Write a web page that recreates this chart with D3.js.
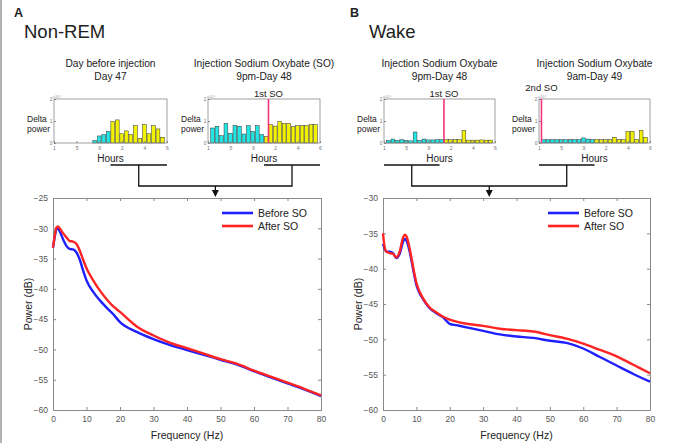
<!DOCTYPE html>
<html>
<head>
<meta charset="utf-8">
<script src="https://cdnjs.cloudflare.com/ajax/libs/d3/7.8.5/d3.min.js"></script>
<style>
  body { margin: 0; background: #fff; }
  svg text { font-family: "Liberation Sans", Arial, sans-serif; fill: #222; }
</style>
</head>
<body>
<svg id="fig" width="675" height="443"></svg>
<script>
// --- data

// hourly delta power (x10^4), 24 bins per recording
var hourTicks = ['1', '5', '9', '2', '4', '6'];
var nremDay47 = [0, 0, 0, 0, 0, 0, 0, 0, 0.11, 0.32, 0.38, 0.53, 0.97, 1.05, 0.42, 0.55, 0.38, 0.79, 0.2, 0.83, 0.42, 0.79, 0.64, 0.26];
var nremDay48 = [0.68, 0.76, 0.33, 0.89, 0.44, 0.8, 0.76, 0.41, 0.79, 0.53, 0.79, 0.38, 0.29, 0.83, 0.77, 0.97, 0.89, 0.89, 0.74, 0.79, 0.79, 0.79, 0.83, 0.83];
var wakeDay48 = [0.12, 0.18, 0.12, 0.15, 0.12, 0.1, 0.5, 0.12, 0.18, 0.14, 0.14, 0.15, 0.15, 0.15, 0.15, 0.15, 0.15, 0.56, 0.13, 0.13, 0.13, 0.14, 0.13, 0.13];
var wakeDay49 = [0.15, 0.15, 0.15, 0.15, 0.15, 0.15, 0.15, 0.15, 0.15, 0.23, 0.18, 0.15, 0.15, 0.15, 0.15, 0.15, 0.26, 0.15, 0.15, 0.53, 0.53, 0.15, 0.57, 0.26];

// power spectra (dB)
var nremFreq = [0, 0.5, 1, 1.5, 2, 3, 4, 5, 6, 7, 8, 9, 10, 12, 14, 16, 18, 20, 25, 30, 35, 40, 45, 50, 55, 60, 65, 70, 75, 80];
var nremBefore = [-33.2, -31.5, -30.2, -30.0, -30.5, -31.8, -32.9, -33.4, -33.5, -34.0, -35.2, -37.0, -38.6, -40.5, -41.9, -43.1, -44.2, -45.5, -47.1, -48.3, -49.3, -50.1, -50.9, -51.7, -52.5, -53.6, -54.6, -55.6, -56.6, -57.7];
var nremAfter = [-33.2, -31.3, -29.9, -29.7, -30.0, -30.8, -31.5, -32.1, -32.2, -32.6, -33.7, -35.2, -36.6, -38.6, -40.3, -41.7, -42.9, -43.8, -46.2, -47.7, -48.9, -49.8, -50.7, -51.6, -52.4, -53.5, -54.5, -55.5, -56.5, -57.6];

var wakeFreq = [0, 0.5, 1, 2, 3, 4, 5, 6, 6.5, 7, 8, 9, 10, 11, 12, 14, 16, 18, 20, 22, 25, 30, 35, 40, 45, 50, 55, 60, 65, 70, 75, 80];
var wakeBefore = [-36.5, -37.2, -37.6, -37.6, -37.8, -38.5, -37.9, -36.2, -35.8, -36.0, -37.6, -40.0, -42.3, -43.5, -44.3, -45.6, -46.3, -46.9, -47.8, -48.0, -48.3, -48.8, -49.3, -49.6, -49.8, -50.2, -50.5, -51.3, -52.5, -53.7, -54.9, -56.0];
var wakeAfter = [-35.0, -37.0, -37.6, -37.8, -37.9, -38.4, -37.6, -35.6, -35.2, -35.4, -37.2, -39.7, -42.0, -43.3, -44.2, -45.5, -46.2, -46.8, -47.2, -47.5, -47.8, -48.1, -48.5, -48.7, -48.9, -49.4, -49.9, -50.6, -51.5, -52.4, -53.6, -54.8];

var legendLabels = ['Before SO', 'After SO'];

var cyan = '#22e6e6', yellow = '#f2f200', soRed = '#f5337a';
var blue = '#1f1fff', red = '#ff2424';

var svg = d3.select('#fig');

// thin frame at the left edge of the figure
svg.append('line').attr('x1', 1).attr('x2', 1).attr('y1', 0).attr('y2', 443)
  .attr('stroke', '#999').attr('stroke-width', 1.5);

// small hourly bar chart, returns its x scale so brackets can use it
function barChart(o) {
  var x = d3.scaleLinear().domain([-1, 24]).range([o.x0, o.x1]);
  var y = d3.scaleLinear().domain([0, 2]).range([143, 99]);
  var g = svg.append('g');

  g.append('text').attr('x', (o.x0 + o.x1) / 2).attr('y', 67)
    .attr('text-anchor', 'middle').attr('font-size', 10.2).text(o.title1);
  g.append('text').attr('x', (o.x0 + o.x1) / 2).attr('y', 80)
    .attr('text-anchor', 'middle').attr('font-size', 10.2).text(o.title2);

  var bars = o.values.map(function(v, i) { return {i: i, v: v}; })
    .filter(function(d) { return d.v > 0; });
  g.selectAll('rect.bar').data(bars).enter().append('rect')
    .attr('class', 'bar')
    .attr('x', function(d) { return x(d.i - 0.42); })
    .attr('width', x(0.42) - x(-0.42))
    .attr('y', function(d) { return y(d.v); })
    .attr('height', function(d) { return y(0) - y(d.v); })
    .attr('fill', function(d) { return d.i < o.split ? cyan : yellow; })
    .attr('stroke', '#333').attr('stroke-width', 0.5);

  // box + tiny ticks
  g.append('rect').attr('x', o.x0).attr('y', 99).attr('width', o.x1 - o.x0).attr('height', 44)
    .attr('fill', 'none').attr('stroke', '#888').attr('stroke-width', 0.8);
  var xa = g.append('g').attr('transform', 'translate(0,143)')
    .call(d3.axisBottom(x).tickValues(d3.range(6).map(function(i) { return -1 + i * 5; }))
      .tickFormat(function(d, i) { return hourTicks[i]; }).tickSize(-2).tickPadding(3));
  var ya = g.append('g').attr('transform', 'translate(' + o.x0 + ',0)')
    .call(d3.axisLeft(y).tickValues([0, 1, 2]).tickFormat(d3.format('d')).tickSize(-2).tickPadding(1.5));
  [xa, ya].forEach(function(a) {
    a.select('.domain').remove();
    a.selectAll('line').attr('stroke', '#888');
    a.selectAll('text').attr('font-size', 5).style('fill', '#777');
  });
  g.append('text').attr('x', o.x0 - 1).attr('y', 97.5).attr('font-size', 4).style('fill', '#999').text('x10\u2074');

  if (o.so !== null) {
    g.append('line').attr('x1', x(o.so)).attr('x2', x(o.so)).attr('y1', 99).attr('y2', 143)
      .attr('stroke', soRed).attr('stroke-width', 1.6);
    g.append('text').attr('x', x(o.so)).attr('y', o.soY).attr('text-anchor', 'middle')
      .attr('font-size', 9.5).text(o.soLabel);
  }

  g.append('text').attr('x', o.x0 - 27).attr('y', 122).attr('font-size', 8.5).text('Delta');
  g.append('text').attr('x', o.x0 - 27).attr('y', 132).attr('font-size', 8.5).text('power');
  g.append('text').attr('x', (o.x0 + o.x1) / 2).attr('y', 162).attr('text-anchor', 'middle')
    .attr('font-size', 10).text('Hours');
  return x;
}

// bracket joining two selected halves down to the spectrum
function bracket(xa, xb, from, to) {
  var y0 = 165, y1 = 186;
  var segA = [xa(from), xa(to)], segB = [xb(from), xb(to)];
  var ma = d3.mean(segA), mb = d3.mean(segB);
  var line = d3.line();
  var g = svg.append('g').attr('fill', 'none').attr('stroke', '#111').attr('stroke-width', 1.3);
  g.append('path').attr('d', line([[segA[0], y0], [segA[1], y0]]));
  g.append('path').attr('d', line([[segB[0], y0], [segB[1], y0]]));
  g.append('path').attr('d', line([[ma, y0], [ma, y1], [mb, y1], [mb, y0]]));
  var mid = (ma + mb) / 2;
  g.append('path').attr('d', line([[mid, y1], [mid, 193]]));
  svg.append('path').attr('d', line([[mid - 3.5, 190], [mid + 3.5, 190], [mid, 197]]) + 'Z')
    .attr('fill', '#111');
}

function psdChart(o) {
  var x = d3.scaleLinear().domain([0, 80]).range([o.x0, o.x1]);
  var y = d3.scaleLinear().domain([-60, o.ytop]).range([410, 198]);
  var g = svg.append('g');

  var axes = [
    g.append('g').attr('transform', 'translate(0,410)')
      .call(d3.axisBottom(x).tickValues(d3.range(0, 81, 10)).tickSize(-3).tickPadding(6)),
    g.append('g').attr('transform', 'translate(' + o.x0 + ',0)')
      .call(d3.axisLeft(y).tickValues(d3.range(-60, o.ytop + 1, 5)).tickSize(-3).tickPadding(5)),
    g.append('g').attr('transform', 'translate(0,198)')
      .call(d3.axisTop(x).tickValues(d3.range(0, 81, 10)).tickSize(-3).tickFormat('')),
    g.append('g').attr('transform', 'translate(' + o.x1 + ',0)')
      .call(d3.axisRight(y).tickValues(d3.range(-60, o.ytop + 1, 5)).tickSize(-3).tickFormat(''))
  ];
  axes.forEach(function(a) {
    a.select('.domain').attr('stroke', '#8a8a8a');
    a.selectAll('line').attr('stroke', '#8a8a8a');
    a.selectAll('text').attr('font-size', 8.5).style('fill', '#555');
  });

  var line = d3.line()
    .x(function(d) { return x(d[0]); })
    .y(function(d) { return y(d[1]); })
    .curve(d3.curveMonotoneX);
  [[o.before, blue], [o.after, red]].forEach(function(s) {
    g.append('path').datum(d3.zip(o.freq, s[0]))
      .attr('d', line).attr('fill', 'none').attr('stroke', s[1]).attr('stroke-width', 2.4)
      .attr('stroke-linejoin', 'round');
  });

  // legend
  var lg = g.append('g');
  lg.selectAll('line').data([blue, red]).enter().append('line')
    .attr('x1', o.lx).attr('x2', o.lx + 31)
    .attr('y1', function(d, i) { return 213 + i * 13; })
    .attr('y2', function(d, i) { return 213 + i * 13; })
    .attr('stroke', function(d) { return d; }).attr('stroke-width', 2.6);
  lg.selectAll('text').data(legendLabels).enter().append('text')
    .attr('x', o.lx + 36).attr('y', function(d, i) { return 217 + i * 13; })
    .attr('font-size', 10.5).text(function(d) { return d; });

  g.append('text').attr('x', (o.x0 + o.x1) / 2).attr('y', 439).attr('text-anchor', 'middle')
    .attr('font-size', 10.5).text('Frequency (Hz)');
  g.append('text').attr('transform', 'translate(' + (o.x0 - 21) + ',304) rotate(-90)')
    .attr('text-anchor', 'middle').attr('font-size', 10.5).text('Power (dB)');
}

// --- panel A : Non-REM
svg.append('text').attr('x', 14).attr('y', 17).attr('font-size', 12.5).attr('font-weight', 'bold').text('A');
svg.append('text').attr('x', 24).attr('y', 38).attr('font-size', 18.5).text('Non-REM');

var xA1 = barChart({x0: 54, x1: 167, values: nremDay47, split: 12, so: null,
  title1: 'Day before injection', title2: 'Day 47'});
var xA2 = barChart({x0: 208, x1: 320, values: nremDay48, split: 12, so: 12.5, soLabel: '1st SO', soY: 97,
  title1: 'Injection Sodium Oxybate (SO)', title2: '9pm-Day 48'});
bracket(xA1, xA2, 11.5, 24);
psdChart({x0: 53, x1: 321, ytop: -25, freq: nremFreq, before: nremBefore, after: nremAfter, lx: 222});

// --- panel B : Wake
svg.append('text').attr('x', 350).attr('y', 17).attr('font-size', 12.5).attr('font-weight', 'bold').text('B');
svg.append('text').attr('x', 369).attr('y', 38).attr('font-size', 18.5).text('Wake');

var xB1 = barChart({x0: 384, x1: 495, values: wakeDay48, split: 13, so: 12.5, soLabel: '1st SO', soY: 97,
  title1: 'Injection Sodium Oxybate', title2: '9pm-Day 48'});
var xB2 = barChart({x0: 539, x1: 650, values: wakeDay49, split: 12, so: -0.45, soLabel: '2nd SO', soY: 91,
  title1: 'Injection Sodium Oxybate', title2: '9am-Day 49'});
bracket(xB1, xB2, -1, 11.5);
psdChart({x0: 383, x1: 650, ytop: -30, freq: wakeFreq, before: wakeBefore, after: wakeAfter, lx: 548});
</script>
</body>
</html>
